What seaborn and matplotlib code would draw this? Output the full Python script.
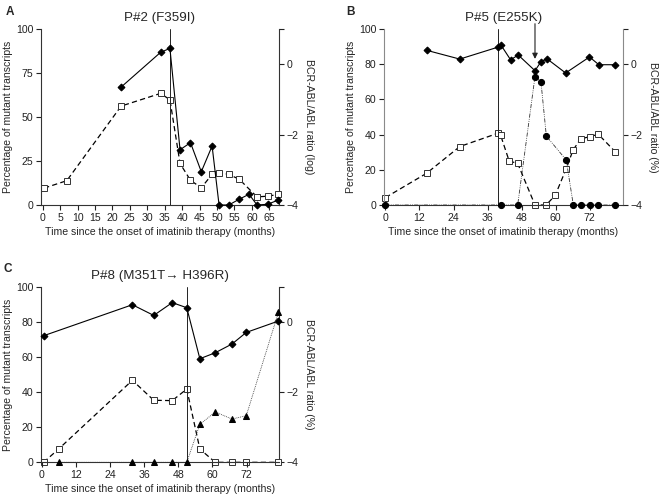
import matplotlib
matplotlib.use("Agg")
import matplotlib.pyplot as plt
import seaborn as sns

sns.set_style("ticks")
plt.rcParams['font.family'] = ['Liberation Sans', 'DejaVu Sans']
plt.rcParams['axes.unicode_minus'] = True

# ---------------- data ----------------
# Panel A  P#2 (F359I)
a_title = "P#2 (F359I)"
a_mut_months = [22.5, 33.8, 36.5, 39.4, 42.4, 45.5, 48.6, 50.6, 53.4, 56.4, 59.2, 61.5, 64.5, 67.6]
a_mut_pct = [67, 86.7, 89, 31.4, 35.4, 18.9, 33.5, 0, 0, 3.3, 6.1, 0, 0.4, 2.8]
a_ratio_months = [0.4, 6.9, 22.5, 33.8, 36.5, 39.4, 42.4, 45.5, 48.6, 50.6, 53.4, 56.4, 61.5, 64.5, 67.6]
a_ratio_log = [-3.52, -3.31, -1.19, -0.83, -1.01, -2.82, -3.30, -3.51, -3.13, -3.08, -3.13, -3.27, -3.77, -3.75, -3.70]
a_switch = 36.5
a_xticks = [0, 5, 10, 15, 20, 25, 30, 35, 40, 45, 50, 55, 60, 65]
a_left_ticks = [0, 25, 50, 75, 100]

# Panel B  P#5 (E255K)
b_title = "P#5 (E255K)"
b_mut_months = [14.5, 26.2, 39.7, 40.7, 44.1, 46.8, 52.7, 54.8, 56.9, 63.5, 71.9, 75.2, 81.0]
b_mut_pct = [87.9, 82.9, 89.7, 90.9, 82.5, 85.2, 76.3, 81.4, 83.1, 75.0, 84.1, 79.7, 79.7]
b_mut2_months = [0, 40.6, 46.6, 52.7, 54.8, 56.7, 63.7, 66.2, 68.8, 72.0, 75.0, 81.0]
b_mut2_pct = [0, 0, 0, 73, 70, 39.1, 25.6, 0, 0, 0, 0, 0]
b_ratio_months = [0, 14.5, 26.2, 39.7, 40.6, 43.6, 46.6, 52.7, 56.6, 59.8, 63.7, 66.1, 68.8, 72.0, 75.0, 81.0]
b_ratio_log = [-3.79, -3.10, -2.34, -1.96, -2.02, -2.75, -2.82, -4.0, -4.0, -3.73, -2.97, -2.44, -2.12, -2.06, -1.99, -2.49]
b_switch = 39.7
b_arrow_month = 52.7
b_xticks = [0, 12, 24, 36, 48, 60, 72]
b_left_ticks = [0, 20, 40, 60, 80, 100]

# Panel C  P#8 (M351T -> H396R)
c_title = "P#8 (M351T\u2192 H396R)"
c_mut_months = [0.7, 31.9, 39.4, 45.9, 51.0, 55.6, 61.0, 66.9, 71.9, 83.2]
c_mut_pct = [72.2, 89.9, 83.8, 91.1, 88.2, 59.1, 62.5, 67.5, 74.1, 80.6]
c_mut2_months = [6.0, 31.9, 39.4, 45.9, 51.0, 55.6, 61.0, 66.9, 71.9, 83.2]
c_mut2_pct = [0, 0, 0, 0, 0, 21.7, 28.7, 24.7, 26.6, 85.6]
c_ratio_months = [0.7, 6.0, 31.9, 39.4, 45.9, 51.0, 55.6, 61.0, 66.9, 71.9, 83.2]
c_ratio_log = [-4.0, -3.62, -1.66, -2.23, -2.24, -1.91, -3.62, -4.0, -4.0, -4.0, -4.0]
c_switch = 51.0
c_xticks = [0, 12, 24, 36, 48, 60, 72]
c_left_ticks = [0, 20, 40, 60, 80, 100]

right_ticks = [-4, -2, 0, 1]
right_ticklabels = ["\u22124", "\u22122", "0", ""]

xlabel = "Time since the onset of imatinib therapy (months)"
ylabel_left = "Percentage of mutant transcripts"

# ---------------- drawing ----------------
FS = 7.6
fig = plt.figure(figsize=(6.61, 4.99), dpi=100)

def make_panel(rect, xlim, title, xticks, left_ticks, right_label, switch):
    ax = fig.add_axes(rect)
    ax2 = ax.twinx()
    ax.set_xlim(*xlim)
    ax.set_ylim(0, 100)
    ax2.set_ylim(-4, 1)
    ax.axvline(switch, color="#222222", lw=0.7, zorder=1)
    ax.set_xticks(xticks)
    ax.set_yticks(left_ticks)
    ax2.set_yticks(right_ticks)
    ax2.set_yticklabels(right_ticklabels)
    for a in (ax, ax2):
        a.tick_params(labelsize=FS, length=3.5, width=0.8, colors="#222222", pad=2)
        for s in a.spines.values():
            s.set_linewidth(0.8)
            s.set_color("#333333")
        a.spines["top"].set_visible(False)
    ax.spines["right"].set_visible(False)
    ax2.spines["left"].set_visible(False)
    ax2.spines["bottom"].set_visible(False)
    ax.set_xlabel(xlabel, fontsize=FS, labelpad=3)
    ax.set_ylabel(ylabel_left, fontsize=FS, labelpad=2)
    ax2.set_ylabel(right_label, fontsize=FS, rotation=270, labelpad=11)
    ax.set_title(title, fontsize=9.6, pad=6)
    return ax, ax2

def diamonds(ax, x, y):
    sns.lineplot(x=x, y=y, ax=ax, estimator=None, color="black", lw=0.8,
                 marker="D", markersize=3.5, markerfacecolor="black",
                 markeredgecolor="black", linestyle="-", legend=False,
                 clip_on=False, zorder=5)

def squares(ax, x, y):
    sns.lineplot(x=x, y=y, ax=ax, estimator=None, color="black", lw=0.9,
                 marker="s", markersize=4.0, markerfacecolor="white",
                 markeredgecolor="#333333", markeredgewidth=0.7,
                 linestyle=(0, (4.2, 2.6)), legend=False, clip_on=False, zorder=4)

def circles(ax, x, y):
    sns.lineplot(x=x, y=y, ax=ax, estimator=None, color="#333333", lw=0.6,
                 marker="o", markersize=4.4, markerfacecolor="black",
                 markeredgecolor="black", linestyle=(0, (5, 1.5, 1, 1.5, 1, 1.5)),
                 legend=False, clip_on=False, zorder=5)

def triangles(ax, x, y):
    sns.lineplot(x=x, y=y, ax=ax, estimator=None, color="#333333", lw=0.6,
                 marker="^", markersize=4.6, markerfacecolor="black",
                 markeredgecolor="black", linestyle=(0, (1, 1.2)),
                 legend=False, clip_on=False, zorder=5)

# Panel A
axA, axA2 = make_panel([0.0620, 0.5892, 0.3601, 0.3527], (-0.5, 67.8), a_title,
                       a_xticks, a_left_ticks, "BCR-ABL/ABL ratio (log)", a_switch)
squares(axA2, a_ratio_months, a_ratio_log)
diamonds(axA, a_mut_months, a_mut_pct)
axA.set_zorder(axA2.get_zorder() + 1)
axA.patch.set_visible(False)

# Panel B
axB, axB2 = make_panel([0.5809, 0.5892, 0.3616, 0.3527], (-0.5, 83.7), b_title,
                       b_xticks, b_left_ticks, "BCR-ABL/ABL ratio (%)", b_switch)
axB.spines["left"].set_color("#8a8a8a")
axB2.spines["right"].set_color("#8a8a8a")
squares(axB2, b_ratio_months, b_ratio_log)
circles(axB, b_mut2_months, b_mut2_pct)
diamonds(axB, b_mut_months, b_mut_pct)
axB.set_zorder(axB2.get_zorder() + 1)
axB.patch.set_visible(False)
axB.annotate("", xy=(b_arrow_month, 83), xytext=(b_arrow_month, 103),
             xycoords="data", textcoords="data",
             arrowprops=dict(arrowstyle="-|>", color="#222222", lw=0.8,
                             mutation_scale=8, shrinkA=0, shrinkB=0),
             annotation_clip=False)

# Panel C
axC, axC2 = make_panel([0.0620, 0.0735, 0.3601, 0.3513], (-0.2, 83.4), c_title,
                       c_xticks, c_left_ticks, "BCR-ABL/ABL ratio (%)", c_switch)
squares(axC2, c_ratio_months, c_ratio_log)
diamonds(axC, c_mut_months, c_mut_pct)
triangles(axC, c_mut2_months, c_mut2_pct)
axC.set_zorder(axC2.get_zorder() + 1)
axC.patch.set_visible(False)

# panel letters
fig.text(0.008, 0.988, "A", fontsize=8.5, fontweight="bold", va="top", ha="left")
fig.text(0.524, 0.988, "B", fontsize=8.5, fontweight="bold", va="top", ha="left")
fig.text(0.006, 0.472, "C", fontsize=8.5, fontweight="bold", va="top", ha="left")

fig.savefig("out.png", dpi=100)
